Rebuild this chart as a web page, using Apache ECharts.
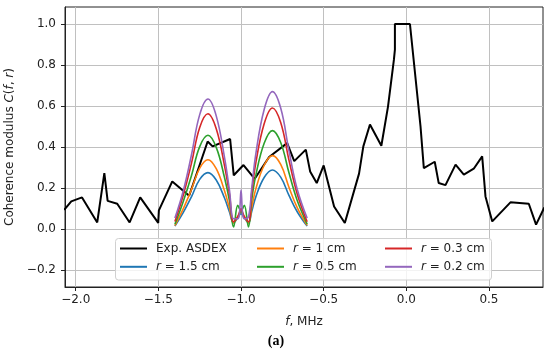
<!DOCTYPE html>
<html><head><meta charset="utf-8">
<script src="https://cdn.jsdelivr.net/npm/echarts@6/dist/echarts.min.js"></script>
<style>html,body{margin:0;padding:0;background:#fff}#c{width:550px;height:351px}</style>
</head><body><div id="c"></div>
<script>
// Experimental ASDEX coherence (frequency MHz, coherence)
const expF = [-2.07,-2.027,-1.962,-1.870,-1.827,-1.807,-1.749,-1.674,-1.610,-1.501,-1.497,-1.416,-1.314,-1.202,-1.172,-1.066,-1.044,-0.985,-0.917,-0.830,-0.721,-0.678,-0.608,-0.582,-0.542,-0.500,-0.437,-0.372,-0.286,-0.260,-0.220,-0.151,-0.111,-0.075,-0.069,-0.069,0.022,0.086,0.106,0.172,0.196,0.237,0.298,0.348,0.408,0.459,0.479,0.520,0.630,0.741,0.785,0.835];
const expC = [0.093,0.135,0.154,0.032,0.273,0.137,0.123,0.032,0.154,0.030,0.091,0.232,0.162,0.427,0.403,0.439,0.262,0.312,0.245,0.351,0.419,0.331,0.387,0.281,0.224,0.310,0.110,0.029,0.270,0.403,0.510,0.406,0.596,0.826,0.875,1.0,1.0,0.500,0.297,0.328,0.224,0.214,0.314,0.265,0.294,0.354,0.159,0.037,0.130,0.123,0.021,0.105];
// Model curves
const modelF = [-1.40,-1.35,-1.30,-1.25,-1.20,-1.15,-1.10,-1.07,-1.045,-1.02,-1.01,-1.00,-0.99,-0.98,-0.955,-0.935,-0.91,-0.86,-0.81,-0.76,-0.71,-0.66,-0.60];
const r15 = [0.014,0.080,0.157,0.242,0.275,0.239,0.151,0.083,0.030,0.055,0.068,0.075,0.068,0.055,0.030,0.086,0.158,0.251,0.288,0.253,0.164,0.084,0.014];
const r10 = [0.017,0.098,0.193,0.297,0.338,0.294,0.186,0.101,0.030,0.060,0.075,0.085,0.075,0.060,0.030,0.107,0.197,0.311,0.358,0.315,0.204,0.104,0.018];
const r05 = [0.023,0.133,0.260,0.402,0.457,0.398,0.251,0.137,0.010,0.115,0.100,0.080,0.100,0.115,0.010,0.144,0.264,0.418,0.480,0.422,0.274,0.139,0.024];
const r03 = [0.037,0.163,0.320,0.495,0.562,0.489,0.309,0.169,0.035,0.060,0.080,0.100,0.080,0.060,0.035,0.177,0.325,0.513,0.590,0.519,0.336,0.171,0.035];
const r02 = [0.053,0.184,0.361,0.558,0.634,0.552,0.349,0.190,0.050,0.050,0.070,0.190,0.070,0.050,0.060,0.201,0.369,0.583,0.670,0.590,0.382,0.194,0.053];
const xTicks = [-2.0,-1.5,-1.0,-0.5,0.0,0.5];
const yTicks = [-0.2,0.0,0.2,0.4,0.6,0.8,1.0];

const FONT = 'DejaVu Sans';
const pairs = (xs, ys) => xs.map((x, i) => [x, ys[i]]);
const fmt = v => (v < 0 ? '\u2212' + (-v).toFixed(1) : v.toFixed(1));
const rich = { i: { fontStyle: 'italic', fontFamily: FONT, fontSize: 12, color: '#222' } };

const models = [
  ['r = 1.5 cm', r15, '#1f77b4'],
  ['r = 1 cm', r10, '#ff7f0e'],
  ['r = 0.5 cm', r05, '#2ca02c'],
  ['r = 0.3 cm', r03, '#d62728'],
  ['r = 0.2 cm', r02, '#9467bd']
];

const series = [{
  name: 'Exp. ASDEX', type: 'line', symbol: 'none', z: 2,
  data: pairs(expF, expC),
  lineStyle: { color: '#000', width: 2 }, itemStyle: { color: '#000' }
}].concat(models.map(([n, d, c], k) => ({
  name: n, type: 'line', symbol: 'none', smooth: 0.4, z: 3 + k,
  data: pairs(modelF, d),
  lineStyle: { color: c, width: 1.6 }, itemStyle: { color: c }
})));

const legendBase = {
  orient: 'vertical', top: 242.5, padding: 0, itemWidth: 27, itemHeight: 2, itemGap: 6.3,
  icon: 'rect', selectedMode: false, z: 200,
  formatter: n => n.startsWith('r ') ? '{i|r}' + n.slice(1) : n,
  textStyle: { fontFamily: FONT, fontSize: 12, color: '#222', padding: [0, 0, 0, 4], rich: rich }
};

const chart = echarts.init(document.getElementById('c'), null, { renderer: 'canvas' });
chart.setOption({
  animation: false,
  backgroundColor: '#fff',
  grid: { left: 65, top: 7, right: 7, bottom: 64, show: true, borderColor: '#222', borderWidth: 1, outerBoundsMode: 'none' },
  xAxis: {
    type: 'value', min: -2.065, max: 0.827,
    name: '{i|f}, MHz', nameLocation: 'middle', nameGap: 29,
    nameTextStyle: { fontFamily: FONT, fontSize: 12, color: '#222', rich: rich },
    axisLine: { show: true, onZero: false, lineStyle: { color: '#222', width: 1 } },
    axisTick: { show: true, length: 4, customValues: xTicks, lineStyle: { color: '#222' } },
    axisLabel: { customValues: xTicks, formatter: fmt, margin: 7, fontFamily: FONT, fontSize: 12, color: '#222' },
    splitLine: { show: true, lineStyle: { color: '#c0c0c0', width: 1 } }
  },
  yAxis: {
    type: 'value', min: -0.283, max: 1.083,
    name: 'Coherence modulus {i|C}({i|f}, {i|r})', nameLocation: 'middle', nameGap: 47,
    nameTextStyle: { fontFamily: FONT, fontSize: 12, color: '#222', rich: rich },
    axisLine: { show: true, onZero: false, lineStyle: { color: '#222', width: 1 } },
    axisTick: { show: true, length: 4, customValues: yTicks, lineStyle: { color: '#222' } },
    axisLabel: { customValues: yTicks, formatter: fmt, margin: 9, fontFamily: FONT, fontSize: 12, color: '#222' },
    splitLine: { show: true, lineStyle: { color: '#c0c0c0', width: 1 } }
  },
  legend: [
    Object.assign({}, legendBase, { left: 120, data: ['Exp. ASDEX', 'r = 1.5 cm'] }),
    Object.assign({}, legendBase, { left: 257, data: ['r = 1 cm', 'r = 0.5 cm'] }),
    Object.assign({}, legendBase, { left: 385, data: ['r = 0.3 cm', 'r = 0.2 cm'] })
  ],
  graphic: { elements: [
    { type: 'rect', z: 100, shape: { x: 115.5, y: 238.5, width: 376, height: 41.5, r: 3 },
      style: { fill: 'rgba(255,255,255,0.8)', stroke: '#d0d0d0', lineWidth: 1 } },
    { type: 'text', z: 100, x: 276, y: 341, style: { text: '(a)', font: 'bold 14px "Liberation Serif", serif', fill: '#000', textAlign: 'center', textVerticalAlign: 'middle' } }
  ] },
  series: series
});
</script></body></html>
